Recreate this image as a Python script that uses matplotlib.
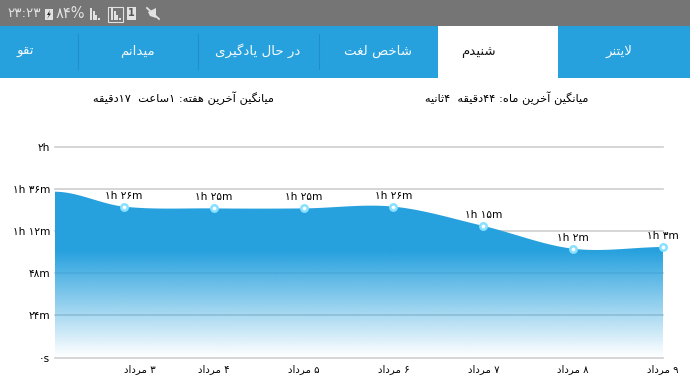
import numpy as np
import matplotlib
matplotlib.use("Agg")
import matplotlib.pyplot as plt
from matplotlib.path import Path
from matplotlib.patches import PathPatch, Rectangle, Polygon
from matplotlib.colors import to_rgb

plt.rcParams['font.family'] = ['DejaVu Sans']

# ---------- data ----------
days = [2.232, 3, 4, 5, 6, 7, 8, 9]
minutes = [94.5, 86, 85, 85, 86, 75, 62, 63]
point_labels = ["۱h ۲۶m", "۱h ۲۵m", "۱h ۲۵m", "۱h ۲۶m", "۱h ۱۵m", "۱h ۲m", "۱h ۳m"]
x_ticks = [3, 4, 5, 6, 7, 8, 9]
x_labels = ["۳ مرداد", "۴ مرداد", "۵ مرداد", "۶ مرداد", "۷ مرداد", "۸ مرداد", "۹ مرداد"]
y_ticks = [0, 24, 48, 72, 96, 120]
y_labels = ["۰s", "۲۴m", "۴۸m", "۱h ۱۲m", "۱h ۳۶m", "۲h"]
tabs = ["لایتنر", "شنیدم", "شاخص لغت", "در حال یادگیری", "میدانم", "تقو"]
week_avg = "میانگین آخرین هفته: ۱ساعت  ۱۷دقیقه"
month_avg = "میانگین آخرین ماه: ۴۴دقیقه  ۴ثانیه"

# ---------- Persian shaping (isolated, final, initial, medial) ----------
FORMS = {
    'ا': (0xFE8D, 0xFE8E, None, None), 'آ': (0xFE81, 0xFE82, None, None),
    'ب': (0xFE8F, 0xFE90, 0xFE91, 0xFE92), 'پ': (0xFB56, 0xFB57, 0xFB58, 0xFB59),
    'ت': (0xFE95, 0xFE96, 0xFE97, 0xFE98), 'ث': (0xFE99, 0xFE9A, 0xFE9B, 0xFE9C),
    'ج': (0xFE9D, 0xFE9E, 0xFE9F, 0xFEA0), 'ح': (0xFEA1, 0xFEA2, 0xFEA3, 0xFEA4),
    'خ': (0xFEA5, 0xFEA6, 0xFEA7, 0xFEA8), 'د': (0xFEA9, 0xFEAA, None, None),
    'ذ': (0xFEAB, 0xFEAC, None, None), 'ر': (0xFEAD, 0xFEAE, None, None),
    'ز': (0xFEAF, 0xFEB0, None, None), 'س': (0xFEB1, 0xFEB2, 0xFEB3, 0xFEB4),
    'ش': (0xFEB5, 0xFEB6, 0xFEB7, 0xFEB8), 'ص': (0xFEB9, 0xFEBA, 0xFEBB, 0xFEBC),
    'ع': (0xFEC9, 0xFECA, 0xFECB, 0xFECC), 'غ': (0xFECD, 0xFECE, 0xFECF, 0xFED0),
    'ف': (0xFED1, 0xFED2, 0xFED3, 0xFED4), 'ق': (0xFED5, 0xFED6, 0xFED7, 0xFED8),
    'ک': (0xFB8E, 0xFB8F, 0xFB90, 0xFB91), 'گ': (0xFB92, 0xFB93, 0xFB94, 0xFB95),
    'ل': (0xFEDD, 0xFEDE, 0xFEDF, 0xFEE0), 'م': (0xFEE1, 0xFEE2, 0xFEE3, 0xFEE4),
    'ن': (0xFEE5, 0xFEE6, 0xFEE7, 0xFEE8), 'و': (0xFEED, 0xFEEE, None, None),
    'ه': (0xFEE9, 0xFEEA, 0xFEEB, 0xFEEC), 'ی': (0xFBFC, 0xFBFD, 0xFBFE, 0xFBFF),
}


def shape(text):
    out = []
    i, n = 0, len(text)
    while i < n:
        c = text[i]
        if c not in FORMS:
            out.append(c)
            i += 1
            continue
        prev = text[i - 1] if i else ''
        joins_prev = prev in FORMS and FORMS[prev][2] is not None
        if c == 'ل' and i + 1 < n and text[i + 1] == 'ا':
            out.append(chr(0xFEFC if joins_prev else 0xFEFB))
            i += 2
            continue
        nxt = text[i + 1] if i + 1 < n else ''
        joins_next = FORMS[c][2] is not None and nxt in FORMS
        iso, fin, ini, med = FORMS[c]
        code = med if joins_prev and joins_next else fin if joins_prev else ini if joins_next else iso
        out.append(chr(code))
        i += 1
    # visual order, keeping digit runs left to right
    runs, cur = [], ''
    for ch in out:
        if '۰' <= ch <= '۹':
            cur += ch
        else:
            if cur:
                runs.append(cur)
                cur = ''
            runs.append(ch)
    if cur:
        runs.append(cur)
    return ''.join(reversed(runs))


W, H = 690, 388
fig = plt.figure(figsize=(W / 100, H / 100), dpi=100, facecolor='white')

# ---------- app chrome, in pixel coordinates ----------
ui = fig.add_axes([0, 0, 1, 1], zorder=0)
ui.set_xlim(0, W)
ui.set_ylim(H, 0)
ui.axis('off')
BLUE = '#27a1de'
ui.add_patch(Rectangle((0, 0), W, 26, color='#757575', lw=0))
ui.add_patch(Rectangle((0, 26), W, 51.5, color=BLUE, lw=0))
ui.add_patch(Rectangle((438.3, 26), 119.5, 52, color='white', lw=0))
for sx in (77.5, 197.5, 318.5):
    ui.plot([sx, sx], [34, 69], color='#1f8fc9', lw=0.8)
tab_x = [619, 478, 378, 258, 137, 25]
for i, (tx, label) in enumerate(zip(tab_x, tabs)):
    ui.text(tx, 51, shape(label), ha='center', va='center', fontsize=9.6,
            color='#111111' if i == 1 else '#f5fbff')
ui.text(183, 98, shape(week_avg), ha='center', va='center', fontsize=8.2, color='black')
ui.text(507, 98, shape(month_avg), ha='center', va='center', fontsize=8.2, color='black')

GREY = '#e2e2e2'
ui.text(7, 13.5, "۲۳:۲۳", ha='left', va='center', fontsize=9.6, color=GREY)
ui.add_patch(Rectangle((45, 9), 8, 11, color=GREY, lw=0))
ui.add_patch(Polygon([(50, 10), (47, 15), (49, 15), (47, 19), (51, 13.5), (49, 13.5)], color='#222222', lw=0))
ui.text(56, 13.5, "۸۴%", ha='left', va='center', fontsize=10.5, color=GREY)
for left in (90, 111):
    for k, h in enumerate((12, 9, 5, 2)):
        ui.add_patch(Rectangle((left + k * 2.7, 20 - h), 1.9, h, color=GREY, lw=0))
ui.add_patch(Rectangle((108, 7), 15, 14.5, fill=False, ec=GREY, lw=0.8))
ui.add_patch(Rectangle((127, 7), 9, 13, color=GREY, lw=0))
ui.text(131.5, 13.5, "1", ha='center', va='center', fontsize=7, fontweight='bold', color='#555555')
ui.add_patch(Polygon([(148, 12), (156, 8), (156, 18), (150, 16)], color=GREY, lw=0))
ui.plot([147, 159], [8, 19], color=GREY, lw=1.3)

# ---------- chart ----------
L, R, T, B = 55, 663, 147, 357.5
ax = fig.add_axes([L / W, 1 - B / H, (R - L) / W, (B - T) / H], zorder=1)
ax.patch.set_alpha(0)
for s in ax.spines.values():
    s.set_visible(False)

xs = np.array(days, dtype=float)
ys = np.array(minutes, dtype=float)
slopes = np.zeros_like(ys)
slopes[1:-1] = (ys[2:] - ys[:-2]) / (xs[2:] - xs[:-2])
slopes[0] = 0.0
slopes[-1] = (ys[-1] - ys[-2]) / (xs[-1] - xs[-2]) * 0.4

# smooth outline: cubic Bezier through the data points, flattened for the clip
t = np.linspace(0, 1, 60)[:, None]
outline = []
for j in range(len(xs) - 1):
    dx = (xs[j + 1] - xs[j]) / 3
    p0 = np.array([xs[j], ys[j]])
    p1 = np.array([xs[j] + dx, ys[j] + slopes[j] * dx])
    p2 = np.array([xs[j + 1] - dx, ys[j + 1] - slopes[j + 1] * dx])
    p3 = np.array([xs[j + 1], ys[j + 1]])
    outline.append((1 - t) ** 3 * p0 + 3 * (1 - t) ** 2 * t * p1 + 3 * (1 - t) * t ** 2 * p2 + t ** 3 * p3)
outline = np.vstack(outline)
closed = np.vstack([[xs[0], 0], outline, [xs[-1], 0], [xs[0], 0]])
area = PathPatch(Path(closed, closed=True), fc='none', ec='none', transform=ax.transData)
ax.add_patch(area)

# colour fades from solid (above 60 min) to transparent at zero
rows = np.linspace(100, 0, 400)
rgba = np.ones((400, 1, 4))
rgba[..., :3] = to_rgb(BLUE)
rgba[:, 0, 3] = np.clip(rows / 60, 0, 1)
img = ax.imshow(rgba, extent=[xs[0], xs[-1], 0, 100], aspect='auto', zorder=3,
                interpolation='bilinear')
img.set_clip_path(area)

ax.set_xlim(xs[0], xs[-1])
ax.set_ylim(0, 120)
ax.set_yticks(y_ticks)
ax.set_yticklabels(y_labels, fontsize=7.6, color='black')
ax.set_xticks(x_ticks)
ax.set_xticklabels([shape(t_) for t_ in x_labels], fontsize=7.3, color='black')
ax.tick_params(length=0)
ax.tick_params(axis='y', pad=3.5)
ax.tick_params(axis='x', pad=4.5)
ax.get_xticklabels()[0].set_ha('left')
ax.grid(axis='y', color='#cccccc', lw=1.15, zorder=2, clip_on=False)
for gl in ax.get_ygridlines():
    gl.set_zorder(2)
    gl.set_clip_on(False)
ax.set_axisbelow(True)

ax.plot(days[1:], minutes[1:], ls='none', marker='o', ms=4.6, mfc='white',
        mec='#86e0ff', mew=1.8, zorder=4, clip_on=False)
for xv, yv, label in zip(days[1:], minutes[1:], point_labels):
    ax.annotate(label, (xv, yv), xytext=(0, 8), textcoords='offset points', ha='center',
                va='center', fontsize=7.6, color='black', zorder=5, annotation_clip=False)

fig.savefig('out.png', dpi=100)
